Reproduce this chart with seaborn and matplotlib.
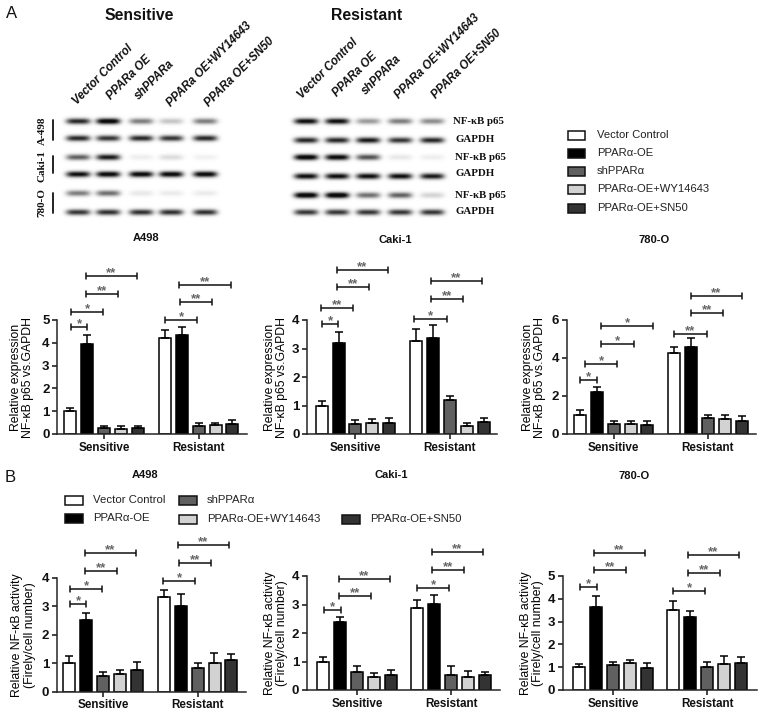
import numpy as np
import pandas as pd
import matplotlib
matplotlib.use("Agg")
import matplotlib.pyplot as plt
from matplotlib.patches import Rectangle
import seaborn as sns

# ---- chart data ----
treatments = ["Vector Control", "PPAR\u03b1-OE", "shPPAR\u03b1", "PPAR\u03b1-OE+WY14643", "PPAR\u03b1-OE+SN50"]
groups = ["Sensitive", "Resistant"]
bar_colors = ["#ffffff", "#000000", "#606060", "#d2d2d2", "#333333"]

a_a498_sens = [1.0, 3.95, 0.25, 0.2, 0.25]
a_a498_sens_err = [0.15, 0.4, 0.1, 0.13, 0.1]
a_a498_res = [4.2, 4.35, 0.35, 0.4, 0.45]
a_a498_res_err = [0.35, 0.35, 0.15, 0.1, 0.15]

a_caki_sens = [1.0, 3.2, 0.35, 0.38, 0.4]
a_caki_sens_err = [0.15, 0.38, 0.15, 0.13, 0.15]
a_caki_res = [3.27, 3.37, 1.2, 0.27, 0.42]
a_caki_res_err = [0.4, 0.45, 0.15, 0.13, 0.15]

a_780_sens = [1.0, 2.2, 0.55, 0.52, 0.5]
a_780_sens_err = [0.25, 0.25, 0.12, 0.18, 0.18]
a_780_res = [4.25, 4.6, 0.85, 0.8, 0.7]
a_780_res_err = [0.35, 0.45, 0.13, 0.2, 0.25]

b_a498_sens = [1.0, 2.52, 0.56, 0.62, 0.76]
b_a498_sens_err = [0.25, 0.25, 0.13, 0.15, 0.3]
b_a498_res = [3.32, 3.03, 0.82, 1.02, 1.12]
b_a498_res_err = [0.25, 0.4, 0.2, 0.35, 0.2]

b_caki_sens = [1.0, 2.37, 0.63, 0.46, 0.54]
b_caki_sens_err = [0.15, 0.18, 0.22, 0.14, 0.17]
b_caki_res = [2.87, 3.02, 0.54, 0.45, 0.52]
b_caki_res_err = [0.3, 0.3, 0.3, 0.2, 0.12]

b_780_sens = [1.0, 3.62, 1.1, 1.2, 0.95]
b_780_sens_err = [0.15, 0.5, 0.13, 0.13, 0.22]
b_780_res = [3.52, 3.2, 1.02, 1.13, 1.2]
b_780_res_err = [0.37, 0.27, 0.23, 0.35, 0.23]

# western blot band strength per lane, top row to bottom row
blot_sens = [
    [0.75, 0.95, 0.45, 0.20, 0.45],
    [0.75, 0.70, 0.75, 0.70, 0.75],
    [0.55, 0.80, 0.06, 0.12, 0.05],
    [0.85, 0.90, 0.90, 0.90, 0.90],
    [0.45, 0.50, 0.08, 0.07, 0.07],
    [0.70, 0.72, 0.72, 0.72, 0.72],
]
blot_res = [
    [0.85, 0.85, 0.35, 0.45, 0.40],
    [0.75, 0.75, 0.80, 0.70, 0.75],
    [0.95, 0.90, 0.60, 0.08, 0.06],
    [0.85, 0.85, 0.85, 0.85, 0.80],
    [0.98, 1.00, 0.50, 0.55, 0.15],
    [0.70, 0.70, 0.70, 0.70, 0.70],
]
blot_sens_lanes = ["Vector Control", "PPARa OE", "shPPARa", "PPARa OE+WY14643", "PPARa OE+SN50"]

# ---- layout, all in figure pixels ----
W, H = 767, 712
label_a = "Relative expression\nNF-\u03baB p65 vs.GAPDH"
label_b = "Relative NF-\u03baB activity\n(Firely/cell number)"

# each bracket: x start, x end, y, stars
panels = [
    dict(title="A498", tx=146, ty=238, left=57.3, right=247, zero=434, top=320, c0=104, c1=198.7,
         ticks=[0, 1, 2, 3, 4, 5], label=label_a, lx=34.5,
         sens=(a_a498_sens, a_a498_sens_err), res=(a_a498_res, a_a498_res_err),
         brackets=[(71, 87, 327, "*"), (71, 103, 312, "*"), (86, 118, 294, "**"), (86, 137, 276, "**"),
                   (165, 197, 320, "*"), (180, 212, 302, "**"), (179, 231, 285, "**")]),
    dict(title="Caki-1", tx=395, ty=240, left=307.3, right=497, zero=434, top=320, c0=355.3, c1=450,
         ticks=[0, 1, 2, 3, 4], label=label_a, lx=288.5,
         sens=(a_caki_sens, a_caki_sens_err), res=(a_caki_res, a_caki_res_err),
         brackets=[(322, 338, 324, "*"), (321, 353, 308, "**"), (337, 369, 287, "**"), (337, 388, 270, "**"),
                   (414, 447, 319, "*"), (431, 463, 299, "**"), (431, 482, 281, "**")]),
    dict(title="780-O", tx=654, ty=240, left=567, right=756, zero=434, top=320, c0=613.7, c1=708,
         ticks=[0, 2, 4, 6], label=label_a, lx=546.5,
         sens=(a_780_sens, a_780_sens_err), res=(a_780_res, a_780_res_err),
         brackets=[(580, 597, 380, "*"), (585, 617, 364, "*"), (601, 634, 344, "*"), (601, 653, 326, "*"),
                   (674, 707, 334, "**"), (691, 723, 313, "**"), (691, 742, 296, "**")]),
    dict(title="A498", tx=145, ty=475, left=57, right=246, zero=691.7, top=578, c0=103, c1=197.7,
         ticks=[0, 1, 2, 3, 4], label=label_b, lx=35.5,
         sens=(b_a498_sens, b_a498_sens_err), res=(b_a498_res, b_a498_res_err),
         brackets=[(70, 86, 604, "*"), (70, 102, 589, "*"), (85, 117, 571, "**"), (85, 136, 553, "**"),
                   (163, 195, 581, "*"), (179, 211, 563, "**"), (178, 229, 545, "**")]),
    dict(title="Caki-1", tx=391, ty=475, left=307, right=500, zero=690, top=576, c0=357, c1=451,
         ticks=[0, 1, 2, 3, 4], label=label_b, lx=288.5,
         sens=(b_caki_sens, b_caki_sens_err), res=(b_caki_res, b_caki_res_err),
         brackets=[(324, 341, 610, "*"), (339, 371, 596, "**"), (339, 390, 579, "**"),
                   (417, 449, 588, "*"), (432, 464, 570, "**"), (432, 483, 552, "**")]),
    dict(title="780-O", tx=634, ty=476, left=562.7, right=757, zero=690, top=576, c0=613, c1=707,
         ticks=[0, 1, 2, 3, 4, 5], label=label_b, lx=544.5,
         sens=(b_780_sens, b_780_sens_err), res=(b_780_res, b_780_res_err),
         brackets=[(580, 597, 587, "*"), (594, 626, 570, "**"), (594, 645, 553, "**"),
                   (673, 705, 591, "*"), (688, 720, 573, "**"), (688, 739, 555, "**")]),
]

BAR_PITCH = 16.8
BAR_PX = 12.0


def draw_panel(fig, overlay, p):
    pos = [p["left"] / W, 1 - p["zero"] / H, (p["right"] - p["left"]) / W, (p["zero"] - p["top"]) / H]
    ax = fig.add_axes(pos, facecolor="none")
    df = pd.DataFrame({
        "group": [groups[0]] * 5 + [groups[1]] * 5,
        "treatment": treatments * 2,
        "value": list(p["sens"][0]) + list(p["res"][0]),
    })
    spacing = p["c1"] - p["c0"]
    sns.barplot(data=df, x="group", y="value", hue="treatment", hue_order=treatments, palette=bar_colors,
                width=5 * BAR_PITCH / spacing, gap=1 - BAR_PX / BAR_PITCH, saturation=1, errorbar=None,
                edgecolor="black", linewidth=1.1, legend=False, ax=ax)
    # upper error bars only
    for i, container in enumerate(list(ax.containers)):
        for j, bar in enumerate(container):
            err = (p["sens"][1] if j == 0 else p["res"][1])[i]
            ax.errorbar(bar.get_x() + bar.get_width() / 2, bar.get_height(), yerr=[[0], [err]],
                        fmt="none", ecolor="black", elinewidth=1.1, capsize=2.7, capthick=1.1, clip_on=False)
    ax.set_xlim((p["left"] - p["c0"]) / spacing, (p["right"] - p["c0"]) / spacing)
    ax.set_ylim(p["ticks"][0], p["ticks"][-1])
    ax.set_yticks(p["ticks"])
    ax.set_xlabel("")
    ax.set_ylabel(p["label"], fontsize=8.8, linespacing=1.1, color="#000000")
    ax.yaxis.set_label_coords(p["lx"], 0.5, transform=matplotlib.transforms.blended_transform_factory(
        overlay.transData, ax.transAxes))
    ax.tick_params(axis="both", length=3.6, width=1.1, pad=2, colors="#111111")
    for lab in ax.get_xticklabels() + ax.get_yticklabels():
        lab.set_fontweight("bold")
    for lab in ax.get_xticklabels():
        lab.set_fontsize(8.4)
    for lab in ax.get_yticklabels():
        lab.set_fontsize(9.5)
    sns.despine(ax=ax)
    ax.spines["left"].set_linewidth(1.1)
    ax.spines["bottom"].set_linewidth(1.1)

    overlay.text(p["tx"], p["ty"], p["title"], ha="center", va="center", fontsize=8, fontweight="bold", color="#111111")
    for x0, x1, y, stars in p["brackets"]:
        overlay.plot([x0, x1], [y, y], color="#111111", lw=1.1, solid_capstyle="butt")
        overlay.plot([x0, x0], [y - 2.7, y + 2.7], color="#111111", lw=1.1)
        overlay.plot([x1, x1], [y - 2.7, y + 2.7], color="#111111", lw=1.1)
        overlay.text((x0 + x1) / 2, y - 2.5, stars, ha="center", va="center", fontsize=9.5, fontweight="bold", color="#666666")


def draw_blot(overlay, bands, lanes, rows, half_width):
    x0, x1 = lanes[0] - 20, lanes[-1] + 20
    y0, y1 = rows[0] - 8, rows[-1] + 8
    xs, ys = np.meshgrid(np.arange(x0, x1, 0.5), np.arange(y0, y1, 0.5))
    img = np.ones_like(xs, dtype=float)
    for r, row_y in enumerate(rows):
        for c, lane_x in enumerate(lanes):
            shape = np.exp(-((xs - lane_x) / half_width) ** 4) * np.exp(-((ys - row_y) / 2.9) ** 2)
            img -= 1.15 * bands[r][c] * shape
    overlay.imshow(np.clip(img, 0.05, 1), extent=(x0, x1, y1, y0), cmap="gray", vmin=0, vmax=1,
                   aspect="auto", interpolation="bilinear", zorder=1)


def legend_entry(overlay, x, y, box_w, box_h, gap, name, color, size):
    overlay.add_patch(Rectangle((x, y - box_h / 2), box_w, box_h, facecolor=color, edgecolor="#111111", lw=1.1))
    overlay.text(x + box_w + gap, y, name, ha="left", va="center", fontsize=size, color="#222222")


sns.set_theme(style="ticks")
plt.rcParams["font.family"] = ["Liberation Sans", "DejaVu Sans"]

fig = plt.figure(figsize=(W / 100, H / 100), dpi=100)
overlay = fig.add_axes([0, 0, 1, 1], facecolor="none")

# western blots
sens_lanes = [78, 108, 141, 171, 205]
res_lanes = [306, 337, 368, 400, 432]
draw_blot(overlay, blot_sens, sens_lanes, [121, 138, 157, 174, 193, 212], 12)
draw_blot(overlay, blot_res, res_lanes, [121, 140, 157, 176, 195, 212], 12)
overlay.set_xlim(0, W)
overlay.set_ylim(H, 0)
overlay.axis("off")

overlay.text(12, 13.5, "A", fontsize=12, ha="center", va="center", color="#111111")
overlay.text(10, 477.5, "B", fontsize=12, ha="center", va="center", color="#111111")
overlay.text(139, 15, "Sensitive", fontsize=11.3, fontweight="bold", ha="center", va="center", color="#111111")
overlay.text(367, 15, "Resistant", fontsize=11.3, fontweight="bold", ha="center", va="center", color="#111111")

starts_sens = [(79, 107), (113, 102), (141, 102), (173, 109), (211, 109)]
starts_res = [(304, 101), (339, 99), (368, 97), (401, 101), (438, 101)]
for starts in (starts_sens, starts_res):
    for (x, y), name in zip(starts, blot_sens_lanes):
        overlay.text(x, y, name, rotation=45, rotation_mode="anchor", ha="left", va="bottom",
                     fontsize=8.3, fontweight="bold", fontstyle="italic", color="#111111")

for x, y, name in [(453, 121, "NF-\u03baB p65"), (455, 139, "GAPDH"), (455, 157, "NF-\u03baB p65"),
                   (455, 174, "GAPDH"), (455, 195, "NF-\u03baB p65"), (455, 212, "GAPDH")]:
    overlay.text(x, y, name, fontsize=7.8, fontweight="bold", family=["Liberation Serif", "DejaVu Serif"],
                 ha="left", va="center", color="#111111")

for y, name, y0, y1 in [(131, "A-498", 120, 140), (166, "Caki-1", 156, 173), (203, "780-O", 193, 213)]:
    overlay.text(42, y, name, rotation=90, fontsize=8, fontweight="bold", family=["Liberation Serif", "DejaVu Serif"],
                 ha="center", va="center", color="#111111")
    overlay.plot([53, 53], [y0, y1], color="#111111", lw=1.3)

# panel A legend
for y, name, color in zip([135, 153, 171, 189, 208], treatments, bar_colors):
    legend_entry(overlay, 568, y, 17, 9, 12, name, color, 8.1)

# panel B legend
legend_b_spots = [(65, 500), (65, 518), (179, 500), (179, 519), (342, 519)]
for (x, y), name, color in zip(legend_b_spots, treatments, bar_colors):
    legend_entry(overlay, x, y, 18, 9, 10, name, color, 8.2)

for p in panels:
    draw_panel(fig, overlay, p)

fig.savefig("out.png", dpi=100)
